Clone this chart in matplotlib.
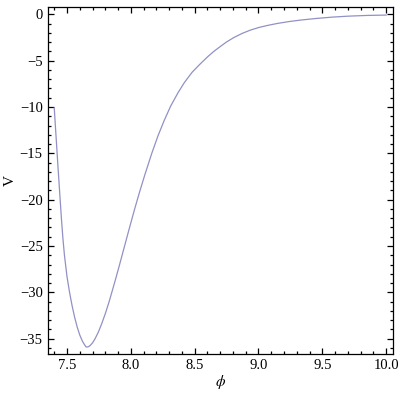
import numpy as np
import matplotlib
matplotlib.use('Agg')
import matplotlib.pyplot as plt
from matplotlib.ticker import MultipleLocator, FuncFormatter

# values
phi = [7.400, 7.415, 7.430, 7.443, 7.456, 7.468, 7.480, 7.500, 7.520, 7.540,
       7.560, 7.580, 7.600, 7.620, 7.635, 7.650, 7.665, 7.680, 7.700, 7.720,
       7.745, 7.770, 7.800, 7.830, 7.853, 7.880, 7.910, 7.949, 7.990, 8.030,
       8.070, 8.110, 8.164, 8.213, 8.260, 8.312, 8.370, 8.420, 8.480, 8.540,
       8.600, 8.650, 8.703, 8.750, 8.805, 8.870, 8.935, 9.000, 9.070, 9.150,
       9.240, 9.330, 9.450, 9.580, 9.700, 9.850, 10.00]
V = [-10.1, -13.35, -16.6, -19.3, -22.0, -24.2, -26.0, -28.3, -30.0, -31.45,
     -32.7, -33.75, -34.6, -35.25, -35.6, -35.9, -35.88, -35.75, -35.45, -35.0,
     -34.3, -33.45, -32.3, -31.0, -29.9, -28.6, -27.1, -25.1, -23.0, -21.0,
     -19.1, -17.3, -15.0, -13.1, -11.5, -9.9, -8.45, -7.35, -6.25, -5.4,
     -4.6, -4.0, -3.45, -2.98, -2.52, -2.07, -1.71, -1.43, -1.2, -0.98,
     -0.78, -0.62, -0.45, -0.3, -0.2, -0.12, -0.08]

plt.rcParams['font.family'] = ['Liberation Serif', 'DejaVu Serif']
plt.rcParams['mathtext.fontset'] = 'stix'

fig = plt.figure(figsize=(4, 4), dpi=100)
ax = fig.add_axes([0.119, 0.115, 0.863, 0.8675])
ax.plot(phi, V, color='#9191c6', lw=0.9)

ax.set_xlim(7.348, 10.052)
ax.set_ylim(-36.65, 0.79)
ax.xaxis.set_major_locator(MultipleLocator(0.5))
ax.xaxis.set_minor_locator(MultipleLocator(0.1))
ax.yaxis.set_major_locator(MultipleLocator(5))
ax.yaxis.set_minor_locator(MultipleLocator(1))
ax.xaxis.set_major_formatter(FuncFormatter(lambda v, p: f'{v:.1f}'))
ax.yaxis.set_major_formatter(FuncFormatter(
    lambda v, p: '0' if abs(v) < 1e-9 else f'\u2212{abs(v):.0f}'))
ax.tick_params(which='both', direction='in', top=True, right=True,
               labelsize=10.5, width=0.9)
ax.tick_params(which='major', length=4.5)
ax.tick_params(which='minor', length=2.5)
for s in ax.spines.values():
    s.set_linewidth(0.9)

ax.set_xlabel(r'$\phi$', fontsize=11, labelpad=1)
ax.set_ylabel('V', fontsize=11, labelpad=2)

fig.savefig('out.png', dpi=100)
